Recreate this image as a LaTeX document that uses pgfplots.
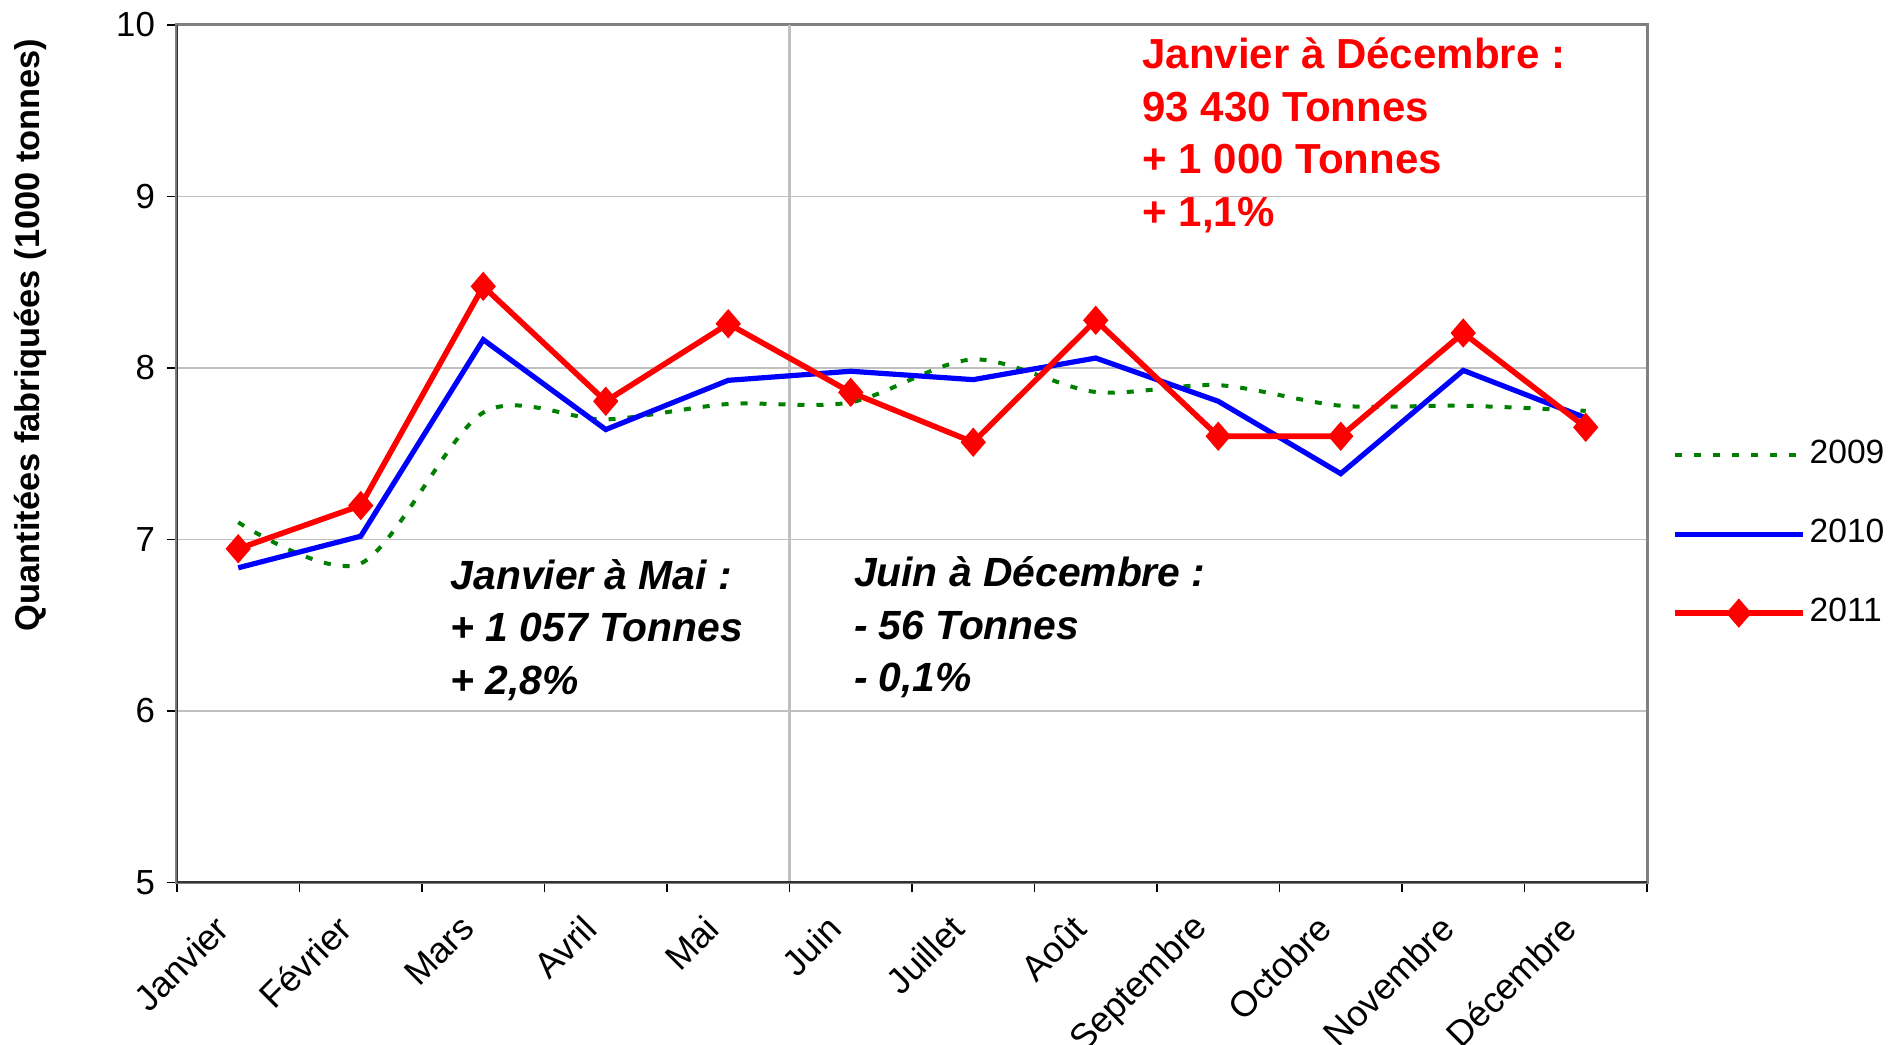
\documentclass[border=0pt]{standalone}
\usepackage{pgfplots}
\pgfplotsset{compat=1.18}
\usepackage{fontspec}
\setmainfont{Liberation Sans}
\definecolor{gridgray}{RGB}{192,192,192}
\definecolor{framegray}{RGB}{128,128,128}
\definecolor{xlgreen}{RGB}{0,128,0}
\definecolor{xlred}{RGB}{255,0,0}
\definecolor{xlblue}{RGB}{0,0,255}

\begin{document}
\begin{tikzpicture}
\useasboundingbox (0,0) rectangle (472.25pt,261.25pt);
\begin{axis}[
  at={(44.25pt,40.625pt)}, anchor=south west,
  scale only axis, width=367.5pt, height=214.375pt,
  xmin=-0.5, xmax=11.5, ymin=5, ymax=10,
  ytick={5,6,7,8,9,10},
  xtick={-0.5,0.5,...,11.5},
  xticklabels={Janvier,Février,Mars,Avril,Mai,Juin,Juillet,Août,Septembre,Octobre,Novembre,Décembre},
  x tick label as interval,
  /pgf/number format/assume math mode=true,
  tick pos=left, tick align=outside, major tick length=2.5pt,
  tick style={black, line width=0.4pt},
  ymajorgrids, major grid style={gridgray, line width=0.4pt},
  axis line style={draw=framegray, line width=0.75pt},
  yticklabel style={font=\fontsize{8.7}{10}\selectfont, xshift=0.5pt},
  xticklabel style={font=\fontsize{9}{10}\selectfont, yshift=-5pt, xshift=-1.5pt, rotate=45, anchor=east},
  ylabel={Quantitées fabriquées (1000 tonnes)},
  ylabel style={at={(axis description cs:-0.1,0.6385)}, anchor=center, font=\bfseries\fontsize{8.6}{10}\selectfont},
  legend style={draw=none, fill=none, inner sep=0pt,
    at={(axis description cs:1.0165,0.5454)}, anchor=north west,
    nodes={inner sep=0pt, minimum height=19.75pt, font=\fontsize{8.4}{10}\selectfont},
    column sep=1pt},
  legend cell align=left,
  legend image code/.code={\draw[mark repeat=2,mark phase=2,#1] plot coordinates {(0pt,0pt) (16pt,0pt) (32pt,0pt)};},
]
\draw[gridgray, line width=0.7pt] (axis cs:4.5,5) -- (axis cs:4.5,10);

\addplot[xlgreen, line width=1pt, dash pattern=on 1.75pt off 3pt, smooth, tension=0.5] coordinates {
  (0,7.10) (1,6.86) (2,7.74) (3,7.70) (4,7.79) (5,7.80)
  (6,8.05) (7,7.86) (8,7.90) (9,7.78) (10,7.78) (11,7.75)};
\addlegendentry{2009}

\addplot[xlblue, line width=1.3pt] coordinates {
  (0,6.835) (1,7.019) (2,8.165) (3,7.641) (4,7.928) (5,7.981)
  (6,7.932) (7,8.058) (8,7.806) (9,7.384) (10,7.986) (11,7.709)};
\addlegendentry{2010}

\addplot[xlred, line width=1.4pt, mark=diamond*, mark size=2.6pt, mark options={xscale=1.15, solid}] coordinates {
  (0,6.946) (1,7.198) (2,8.476) (3,7.806) (4,8.258) (5,7.858)
  (6,7.567) (7,8.278) (8,7.602) (9,7.602) (10,8.204) (11,7.654)};
\addlegendentry{2011}

\draw[black!80, line width=0.75pt] (rel axis cs:0,1) -- (rel axis cs:0,0) -- (rel axis cs:1,0);

\begin{scope}[every node/.style={anchor=base west, inner sep=0pt}]
\node[font=\bfseries\fontsize{10.5}{12}\selectfont, text=xlred] at (axis description cs:0.6563,0.9495) {Janvier à Décembre :};
\node[font=\bfseries\fontsize{10.5}{12}\selectfont, text=xlred] at (axis description cs:0.6563,0.8872) {93 430 Tonnes};
\node[font=\bfseries\fontsize{10.5}{12}\selectfont, text=xlred] at (axis description cs:0.6563,0.8274) {+ 1 000 Tonnes};
\node[font=\bfseries\fontsize{10.5}{12}\selectfont, text=xlred] at (axis description cs:0.6563,0.7648) {+ 1,1\%};

\node[font=\bfseries\itshape\fontsize{10.2}{12}\selectfont] at (axis description cs:0.1857,0.3411) {Janvier à Mai :};
\node[font=\bfseries\itshape\fontsize{10.2}{12}\selectfont] at (axis description cs:0.1857,0.2808) {+ 1 057 Tonnes};
\node[font=\bfseries\itshape\fontsize{10.2}{12}\selectfont] at (axis description cs:0.1857,0.2187) {+ 2,8\%};

\node[font=\bfseries\itshape\fontsize{10.2}{12}\selectfont] at (axis description cs:0.46,0.345) {Juin à Décembre :};
\node[font=\bfseries\itshape\fontsize{10.2}{12}\selectfont] at (axis description cs:0.46,0.2828) {- 56 Tonnes};
\node[font=\bfseries\itshape\fontsize{10.2}{12}\selectfont] at (axis description cs:0.46,0.2225) {- 0,1\%};
\end{scope}
\end{axis}
\end{tikzpicture}
\end{document}
